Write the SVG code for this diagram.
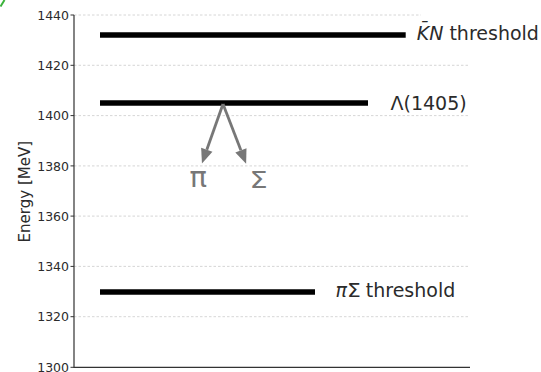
<svg xmlns="http://www.w3.org/2000/svg" width="541" height="372" viewBox="0 0 541 372">
<style>
text{font-family:"DejaVu Sans","Liberation Sans",sans-serif;fill:#2b2b2b}
.tick{font-size:12.5px;text-anchor:end}
.grid{stroke:#cccccc;stroke-width:0.8;stroke-dasharray:2.5,2}
.spine{stroke:#333;stroke-width:1.2;fill:none}
.tk{stroke:#333;stroke-width:1}
.bar{stroke:#000;stroke-width:5.5}
.lbl{font-size:19px}
.arr{stroke:#777;stroke-width:2.8;fill:none}
.prod{fill:#777}
</style>
<defs>
<marker id="ah" markerUnits="userSpaceOnUse" orient="auto" refX="0" refY="0" markerWidth="20" markerHeight="20" overflow="visible">
<path d="M0,-6 L14.5,0 L0,6 z" fill="#777"/>
</marker>
</defs>
<rect width="541" height="372" fill="#fff"/>
<path d="M0.5,6.5 L4.5,0" stroke="#3bb33b" stroke-width="2" fill="none"/>
<g id="axes">
<line class="grid" x1="74" y1="15" x2="421" y2="15"/>
<line class="grid" x1="74" y1="65.3" x2="470" y2="65.3"/>
<line class="grid" x1="74" y1="115.6" x2="470" y2="115.6"/>
<line class="grid" x1="74" y1="165.9" x2="470" y2="165.9"/>
<line class="grid" x1="74" y1="216.1" x2="470" y2="216.1"/>
<line class="grid" x1="74" y1="266.4" x2="470" y2="266.4"/>
<line class="grid" x1="74" y1="316.7" x2="470" y2="316.7"/>
<path class="spine" d="M74,15 L74,367.3 L470,367.3"/>
<line class="tk" x1="70.5" y1="15" x2="74" y2="15"/>
<line class="tk" x1="70.5" y1="65.3" x2="74" y2="65.3"/>
<line class="tk" x1="70.5" y1="115.6" x2="74" y2="115.6"/>
<line class="tk" x1="70.5" y1="165.9" x2="74" y2="165.9"/>
<line class="tk" x1="70.5" y1="216.1" x2="74" y2="216.1"/>
<line class="tk" x1="70.5" y1="266.4" x2="74" y2="266.4"/>
<line class="tk" x1="70.5" y1="316.7" x2="74" y2="316.7"/>
<line class="tk" x1="70.5" y1="367.3" x2="74" y2="367.3"/>
<text class="tick" x="69" y="19.6">1440</text>
<text class="tick" x="69" y="69.9">1420</text>
<text class="tick" x="69" y="120.2">1400</text>
<text class="tick" x="69" y="170.5">1380</text>
<text class="tick" x="69" y="220.7">1360</text>
<text class="tick" x="69" y="271">1340</text>
<text class="tick" x="69" y="321.3">1320</text>
<text class="tick" x="69" y="371.9">1300</text>
<text x="0" y="0" font-size="15" text-anchor="middle" transform="translate(29.5,191.7) rotate(-90)">Energy [MeV]</text>
</g>
<g id="kn-threshold">
<line class="bar" x1="100" y1="35" x2="405.7" y2="35"/>
<text class="lbl" x="416.7" y="39.5"><tspan font-style="italic">K̄N</tspan> threshold</text>
</g>
<g id="lambda1405">
<line class="bar" x1="100" y1="103" x2="368" y2="103"/>
<text class="lbl" x="390.5" y="109.5">Λ(1405)</text>
</g>
<g id="pisigma-threshold">
<line class="bar" x1="100" y1="292" x2="315" y2="292"/>
<text class="lbl" x="335.5" y="297.3" font-style="italic">π</text>
<text class="lbl" transform="translate(347,297.3) scale(1.15,1)" x="0" y="0">Σ</text>
<text class="lbl" x="365.8" y="297.3">threshold</text>
</g>
<g id="connectors">
<line class="arr" x1="223" y1="104" x2="206.8" y2="149.8" marker-end="url(#ah)"/>
<line class="arr" x1="223" y1="104" x2="240.9" y2="150.3" marker-end="url(#ah)"/>
</g>
<g id="products">
<text class="prod" x="189.5" y="187" font-size="29">π</text>
<text class="prod" transform="translate(249.5,188) scale(1.25,1)" x="0" y="0" font-size="23">Σ</text>
</g>
</svg>
